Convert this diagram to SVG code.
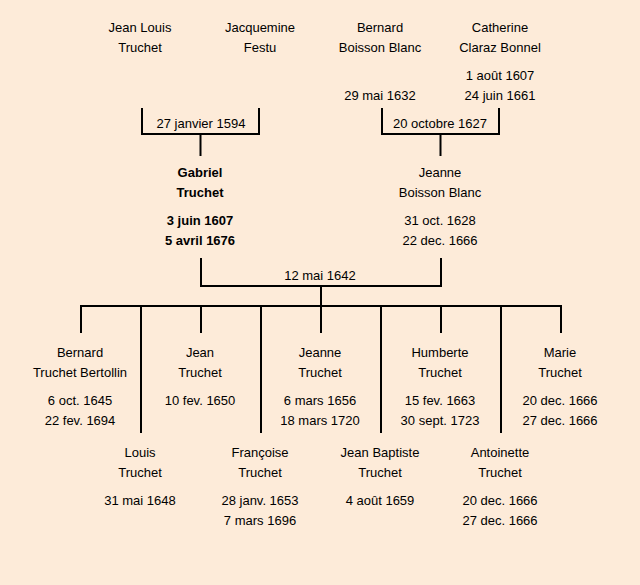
<svg xmlns="http://www.w3.org/2000/svg" width="640" height="585" viewBox="0 0 640 585">
<style>
text{font-family:"Liberation Sans",Arial,sans-serif;font-size:13px;fill:#000;text-anchor:middle}
.b{font-weight:bold}
.c line,.c path{stroke:#000;stroke-width:2;fill:none}
</style>
<rect width="640" height="585" fill="#fdebd9"/>
<g class="c" id="connectors">
<path d="M142,108V134H259V108"/>
<line x1="200.5" y1="134" x2="200.5" y2="156"/>
<path d="M382,108V134H499V108"/>
<line x1="440.5" y1="134" x2="440.5" y2="156"/>
<path d="M201,258V286H441V258"/>
<line x1="321" y1="286" x2="321" y2="306"/>
<line x1="80" y1="306" x2="562" y2="306"/>
<line x1="81" y1="306" x2="81" y2="333"/>
<line x1="201" y1="306" x2="201" y2="333"/>
<line x1="321" y1="306" x2="321" y2="333"/>
<line x1="441" y1="306" x2="441" y2="333"/>
<line x1="561" y1="306" x2="561" y2="333"/>
<line x1="141" y1="306" x2="141" y2="433"/>
<line x1="261" y1="306" x2="261" y2="433"/>
<line x1="381" y1="306" x2="381" y2="433"/>
<line x1="501" y1="306" x2="501" y2="433"/>
<text x="201" y="128">27 janvier 1594</text>
<text x="440" y="128">20 octobre 1627</text>
<text x="320" y="280">12 mai 1642</text>
</g>
<g id="jean-louis-truchet"><text x="140" y="32">Jean Louis</text><text x="140" y="52">Truchet</text></g>
<g id="jacquemine-festu"><text x="260" y="32">Jacquemine</text><text x="260" y="52">Festu</text></g>
<g id="bernard-boisson-blanc"><text x="380" y="32">Bernard</text><text x="380" y="52">Boisson Blanc</text><text x="380" y="100">29 mai 1632</text></g>
<g id="catherine-claraz-bonnel"><text x="500" y="32">Catherine</text><text x="500" y="52">Claraz Bonnel</text><text x="500" y="80">1 août 1607</text><text x="500" y="100">24 juin 1661</text></g>
<g id="gabriel-truchet" class="b"><text class="b" x="200" y="177">Gabriel</text><text class="b" x="200" y="197">Truchet</text><text class="b" x="200" y="225">3 juin 1607</text><text class="b" x="200" y="245">5 avril 1676</text></g>
<g id="jeanne-boisson-blanc"><text x="440" y="177">Jeanne</text><text x="440" y="197">Boisson Blanc</text><text x="440" y="225">31 oct. 1628</text><text x="440" y="245">22 dec. 1666</text></g>
<g id="bernard-truchet-bertollin"><text x="80" y="357">Bernard</text><text x="80" y="377">Truchet Bertollin</text><text x="80" y="405">6 oct. 1645</text><text x="80" y="425">22 fev. 1694</text></g>
<g id="jean-truchet"><text x="200" y="357">Jean</text><text x="200" y="377">Truchet</text><text x="200" y="405">10 fev. 1650</text></g>
<g id="jeanne-truchet"><text x="320" y="357">Jeanne</text><text x="320" y="377">Truchet</text><text x="320" y="405">6 mars 1656</text><text x="320" y="425">18 mars 1720</text></g>
<g id="humberte-truchet"><text x="440" y="357">Humberte</text><text x="440" y="377">Truchet</text><text x="440" y="405">15 fev. 1663</text><text x="440" y="425">30 sept. 1723</text></g>
<g id="marie-truchet"><text x="560" y="357">Marie</text><text x="560" y="377">Truchet</text><text x="560" y="405">20 dec. 1666</text><text x="560" y="425">27 dec. 1666</text></g>
<g id="louis-truchet"><text x="140" y="457">Louis</text><text x="140" y="477">Truchet</text><text x="140" y="505">31 mai 1648</text></g>
<g id="francoise-truchet"><text x="260" y="457">Françoise</text><text x="260" y="477">Truchet</text><text x="260" y="505">28 janv. 1653</text><text x="260" y="525">7 mars 1696</text></g>
<g id="jean-baptiste-truchet"><text x="380" y="457">Jean Baptiste</text><text x="380" y="477">Truchet</text><text x="380" y="505">4 août 1659</text></g>
<g id="antoinette-truchet"><text x="500" y="457">Antoinette</text><text x="500" y="477">Truchet</text><text x="500" y="505">20 dec. 1666</text><text x="500" y="525">27 dec. 1666</text></g>
</svg>
